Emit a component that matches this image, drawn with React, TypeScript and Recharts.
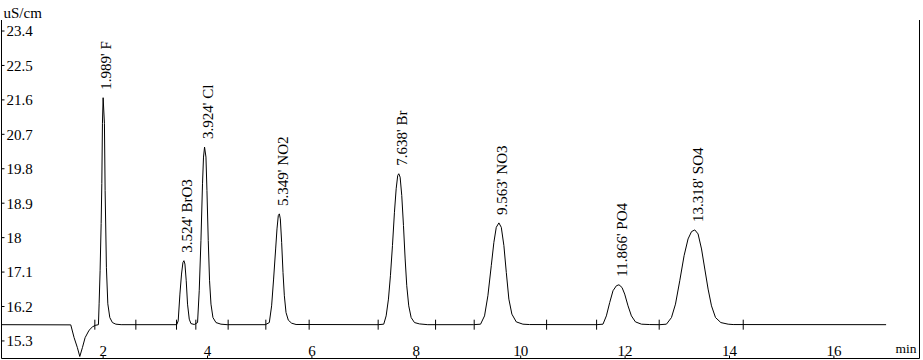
import { ComposedChart, Line, Scatter, XAxis, YAxis } from 'recharts'

const FONT = "'Liberation Serif', 'Times New Roman', serif"

// detector trace, [minutes, uS/cm]
const leadIn: [number, number][] = [[0.053, 15.725], [1.38, 15.72]]
const waterDip: [number, number][] = [
  [1.444, 15.386], [1.507, 15.124], [1.553, 14.894], [1.603, 15.124], [1.655, 15.386],
  [1.731, 15.58], [1.795, 15.667], [1.847, 15.706],
]
const peakF: [number, number][] = [
  [1.91, 15.725], [1.923, 16.27], [1.942, 17.135], [1.962, 18.367], [1.975, 19.415], [1.987, 20.988],
  [2.0, 21.657], [2.025, 20.988], [2.038, 19.232], [2.063, 17.213], [2.09, 16.27], [2.128, 15.911],
  [2.178, 15.78], [2.244, 15.738], [2.345, 15.725],
]
const peakBrO3Cl: [number, number][] = [
  [3.41, 15.725], [3.438, 15.824], [3.471, 16.524], [3.502, 17.048], [3.529, 17.352], [3.548, 17.397],
  [3.567, 17.31], [3.592, 16.873], [3.617, 16.262], [3.65, 15.869], [3.682, 15.754], [3.746, 15.73],
  [3.809, 15.78], [3.841, 16.611], [3.874, 17.921], [3.904, 19.407], [3.923, 20.105], [3.943, 20.367],
  [3.97, 20.105], [3.989, 19.232], [4.014, 17.921], [4.039, 16.873], [4.066, 16.262], [4.104, 15.911],
  [4.162, 15.78], [4.257, 15.738], [4.378, 15.725],
]
const peakNO2: [number, number][] = [
  [5.107, 15.725], [5.184, 15.78], [5.228, 16.217], [5.266, 16.917], [5.305, 17.704], [5.331, 18.228],
  [5.356, 18.577], [5.376, 18.621], [5.395, 18.49], [5.42, 17.877], [5.446, 17.09], [5.472, 16.48],
  [5.504, 16.042], [5.548, 15.843], [5.611, 15.764], [5.696, 15.73],
]
const peakBr: [number, number][] = [
  [7.27, 15.725], [7.376, 15.738], [7.422, 15.955], [7.466, 16.393], [7.504, 17.004], [7.543, 17.79],
  [7.581, 18.663], [7.614, 19.276], [7.644, 19.625], [7.664, 19.67], [7.69, 19.58], [7.721, 19.101],
  [7.754, 18.314], [7.786, 17.442], [7.817, 16.742], [7.855, 16.217], [7.901, 15.911], [7.965, 15.78],
  [8.061, 15.745], [8.22, 15.725],
]
const peakNO3: [number, number][] = [
  [9.096, 15.725], [9.231, 15.738], [9.307, 15.955], [9.371, 16.48], [9.436, 17.266], [9.486, 17.877],
  [9.532, 18.27], [9.582, 18.385], [9.628, 18.27], [9.678, 17.79], [9.724, 17.09], [9.773, 16.393],
  [9.831, 16.0], [9.915, 15.798], [10.042, 15.738], [10.17, 15.728],
]
const peakPO4: [number, number][] = [
  [11.455, 15.725], [11.576, 15.738], [11.641, 15.955], [11.705, 16.304], [11.768, 16.611], [11.833, 16.742],
  [11.883, 16.768], [11.941, 16.697], [11.992, 16.524], [12.056, 16.217], [12.121, 15.955], [12.198, 15.798],
  [12.313, 15.738], [12.472, 15.728],
]
const peakSO4: [number, number][] = [
  [12.664, 15.725], [12.792, 15.738], [12.888, 15.911], [12.965, 16.262], [13.047, 16.873], [13.13, 17.528],
  [13.206, 17.966], [13.272, 18.157], [13.335, 18.202], [13.398, 18.097], [13.464, 17.704], [13.527, 17.179],
  [13.59, 16.655], [13.655, 16.217], [13.732, 15.911], [13.834, 15.78], [13.974, 15.738], [14.07, 15.728],
]
const tail: [number, number][] = [[17.0, 15.725]]

const retentionTimes = [1.989, 3.524, 3.924, 5.349, 7.638, 9.563, 11.866, 13.318]
const peakNames = ['F', 'BrO3', 'Cl', 'NO2', 'Br', 'NO3', 'PO4', 'SO4']

// integration start/end marks on the baseline
const markTimes = [1.841, 2.627, 3.406, 3.776, 4.395, 5.117, 5.947, 7.269, 8.369, 9.109, 10.496, 11.454, 12.653, 14.263]
const BASELINE = 15.725

const xTicks = [2, 4, 6, 8, 10, 12, 14, 16]
const yTicks = [15.3, 16.2, 17.1, 18, 18.9, 19.8, 20.7, 21.6, 22.5, 23.4]
const X_DOMAIN: [number, number] = [0.053, 17.64]
const Y_DOMAIN: [number, number] = [14.841, 23.688]

const trace = [...leadIn, ...waterDip, ...peakF, ...peakBrO3Cl, ...peakNO2, ...peakBr, ...peakNO3, ...peakPO4, ...peakSO4, ...tail]
  .map(([t, v]) => ({ t, v }))

// label each peak at the highest trace point near its retention time
const peakLabels = retentionTimes.map((rt, i) => {
  const near = trace.filter((p) => Math.abs(p.t - rt) < 0.1)
  const top = near.reduce((a, b) => (b.v > a.v ? b : a))
  return { t: top.t, v: top.v, label: `${rt.toFixed(3)}' ${peakNames[i]}` }
})

const marks = markTimes.map((t) => ({ t, v: BASELINE }))

const PeakLabel = (props: any) => {
  const { cx, cy, payload } = props
  const x = cx + 3
  const y = cy - 8
  return (
    <text x={x} y={y} dy="0.35em" transform={`rotate(-90 ${x} ${y})`} fontSize={15} fontFamily={FONT} fill="#000">
      {payload.label}
    </text>
  )
}

const Mark = (props: any) => {
  const { cx, cy } = props
  return <line x1={cx} x2={cx} y1={cy - 5} y2={cy + 5} stroke="#000" strokeWidth={1} />
}

const tickStyle = { fontSize: 15, fontFamily: FONT, fill: '#000' }

export default function App() {
  return (
    <div style={{ position: 'absolute', left: 0, top: 0, width: 923, height: 360, background: '#fff' }}>
      <ComposedChart width={923} height={360} margin={{ top: 20, right: 2.5, bottom: 1.5, left: 1.5 }}>
        <XAxis
          dataKey="t"
          type="number"
          domain={X_DOMAIN}
          allowDataOverflow
          ticks={xTicks}
          height={1}
          mirror
          tickSize={3}
          tickMargin={0}
          tick={tickStyle}
          axisLine={{ stroke: '#000' }}
          tickLine={{ stroke: '#000' }}
        />
        <YAxis
          yAxisId="left"
          type="number"
          domain={Y_DOMAIN}
          allowDataOverflow
          ticks={yTicks}
          width={1}
          mirror
          tickSize={3}
          tickMargin={2}
          tick={tickStyle}
          axisLine={{ stroke: '#000' }}
          tickLine={{ stroke: '#000' }}
        />
        <YAxis
          yAxisId="right"
          orientation="right"
          type="number"
          domain={Y_DOMAIN}
          allowDataOverflow
          width={1}
          tick={false}
          tickLine={false}
          axisLine={{ stroke: '#000' }}
        />
        <Line
          yAxisId="left"
          data={trace}
          dataKey="v"
          type="linear"
          stroke="#000"
          strokeWidth={1}
          dot={false}
          activeDot={false}
          isAnimationActive={false}
        />
        <Scatter yAxisId="left" data={marks} dataKey="v" shape={Mark} isAnimationActive={false} />
        <Scatter yAxisId="left" data={peakLabels} dataKey="v" shape={PeakLabel} isAnimationActive={false} />
      </ComposedChart>
      <svg width={923} height={360} style={{ position: 'absolute', left: 0, top: 0, pointerEvents: 'none' }}>
        <text x={3.5} y={18} fontSize={15} fontFamily={FONT} fill="#000">uS/cm</text>
        <text x={895.5} y={353} fontSize={13.5} fontFamily={FONT} fill="#000">min</text>
      </svg>
    </div>
  )
}
